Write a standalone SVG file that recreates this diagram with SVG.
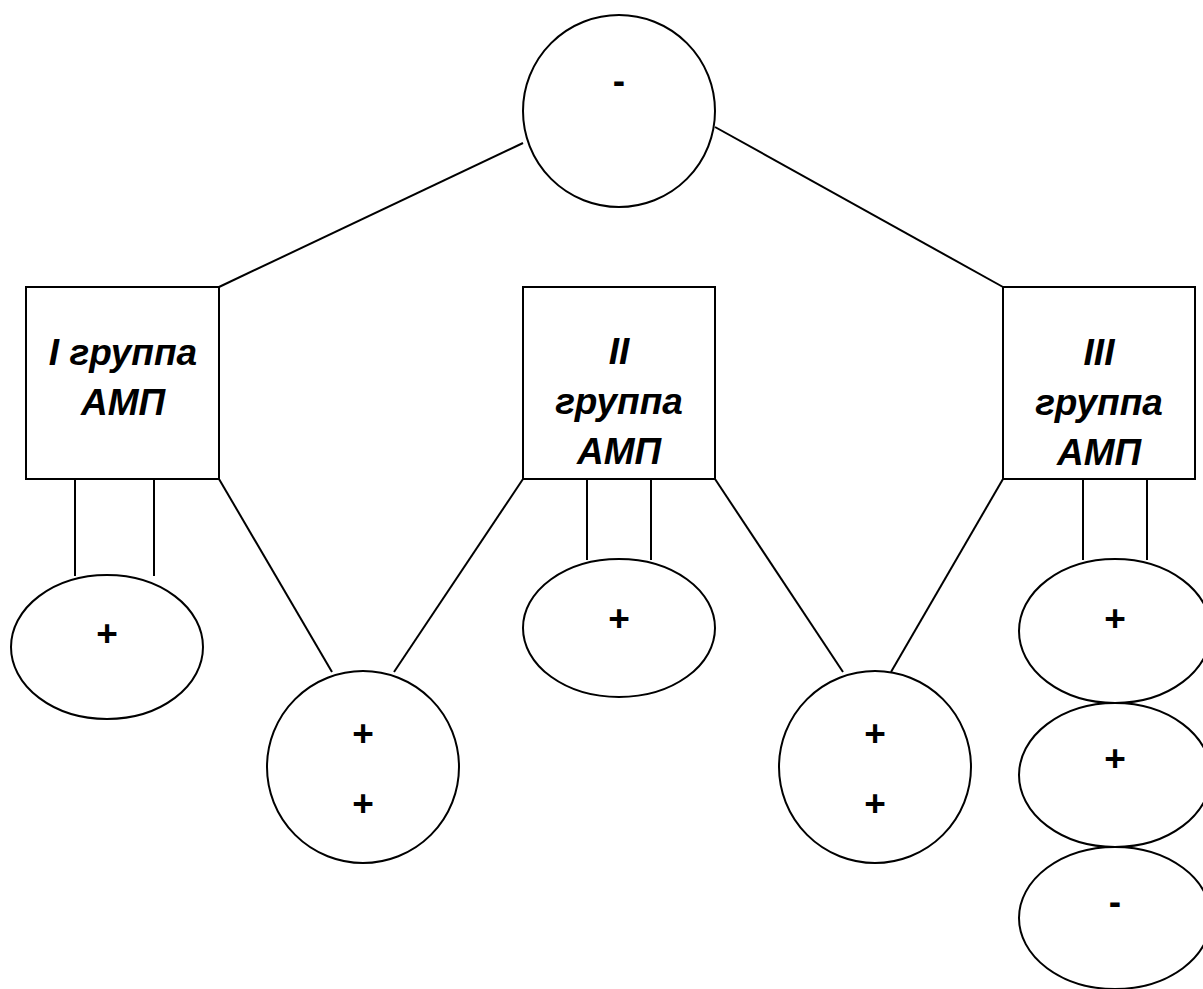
<svg xmlns="http://www.w3.org/2000/svg" width="1203" height="989" viewBox="0 0 1203 989">
<style>
.s{fill:#fff;stroke:#000;stroke-width:2}
.c line{stroke:#000;stroke-width:2}
.t{font-family:"Liberation Sans",Arial,sans-serif;font-weight:bold;font-size:37px;text-anchor:middle;fill:#000}
.i{font-style:italic;font-size:37px}
</style>
<rect width="1203" height="989" fill="#fff"/>
<g id="connectors" class="c">
<line x1="523" y1="143" x2="219" y2="287"/>
<line x1="715" y1="127" x2="1003" y2="287"/>
<line x1="75" y1="479" x2="75" y2="576"/>
<line x1="154" y1="479" x2="154" y2="576"/>
<line x1="219" y1="479" x2="332" y2="672"/>
<line x1="523" y1="479" x2="394" y2="672"/>
<line x1="587" y1="479" x2="587" y2="560"/>
<line x1="651" y1="479" x2="651" y2="560"/>
<line x1="715" y1="479" x2="843" y2="672"/>
<line x1="1003" y1="479" x2="891" y2="672"/>
<line x1="1083" y1="479" x2="1083" y2="560"/>
<line x1="1147" y1="479" x2="1147" y2="560"/>
</g>
<g id="top"><circle class="s" cx="619" cy="111" r="96"/><text class="t" x="619" y="93">-</text></g>
<g id="g1"><rect class="s" x="26" y="287" width="193" height="192"/><text class="t i" x="123" y="365">I группа</text><text class="t i" x="123" y="415">АМП</text></g>
<g id="g2"><rect class="s" x="523" y="287" width="192" height="192"/><text class="t i" x="619" y="364">II</text><text class="t i" x="619" y="414">группа</text><text class="t i" x="619" y="464">АМП</text></g>
<g id="g3"><rect class="s" x="1003" y="287" width="192" height="192"/><text class="t i" x="1099" y="365">III</text><text class="t i" x="1099" y="415">группа</text><text class="t i" x="1099" y="465">АМП</text></g>
<g id="e1"><ellipse class="s" cx="107" cy="647" rx="96" ry="72"/><text class="t" x="107" y="646">+</text></g>
<g id="c1"><circle class="s" cx="363" cy="767" r="96"/><text class="t" x="363" y="746">+</text><text class="t" x="363" y="816">+</text></g>
<g id="e2"><ellipse class="s" cx="619" cy="628" rx="96" ry="69"/><text class="t" x="619" y="631">+</text></g>
<g id="c2"><circle class="s" cx="875" cy="767" r="96"/><text class="t" x="875" y="746">+</text><text class="t" x="875" y="816">+</text></g>
<g id="e3"><ellipse class="s" cx="1115" cy="631" rx="96" ry="72"/><text class="t" x="1115" y="631">+</text></g>
<g id="e4"><ellipse class="s" cx="1115" cy="775" rx="96" ry="72"/><text class="t" x="1115" y="771">+</text></g>
<g id="e5"><ellipse class="s" cx="1115" cy="918" rx="96" ry="71"/><text class="t" x="1115" y="914">-</text></g>
</svg>
